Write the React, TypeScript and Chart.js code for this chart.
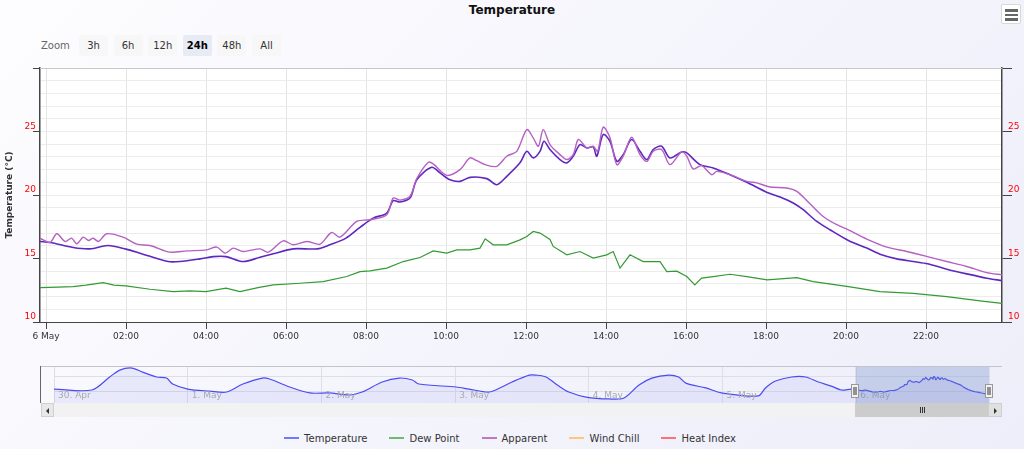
import React, { useEffect, useRef } from 'react';
import { Chart, registerables } from 'chart.js';

Chart.register(...registerables);

const FONT = '"DejaVu Sans", Verdana, sans-serif';

// ---- axis ticks ----
const xTickHours = [0, 2, 4, 6, 8, 10, 12, 14, 16, 18, 20, 22];
const xTickLabels = ['6 May', '02:00', '04:00', '06:00', '08:00', '10:00', '12:00', '14:00', '16:00', '18:00', '20:00', '22:00'];
const yMin = 10;
const yMax = 30;
const viewStart = -0.15;
const viewEnd = 23.9;

// ---- series: Temperature ----
const tempHours = [-0.15, 0.1, 0.68, 1.1, 1.55, 2.0, 2.35, 3.05, 3.35, 3.85, 4.18, 4.5, 4.93, 5.35, 5.68, 6.18, 6.78, 7.1, 7.5, 7.85, 8.18, 8.52, 8.68, 8.85, 9.1, 9.27, 9.64, 9.85, 10.1, 10.35, 10.6, 11.02, 11.27, 11.52, 11.85, 12.02, 12.18, 12.35, 12.45, 12.6, 12.85, 13.02, 13.18, 13.35, 13.52, 13.68, 13.77, 13.93, 14.1, 14.27, 14.43, 14.64, 14.85, 15.02, 15.18, 15.39, 15.6, 15.89, 16.02, 16.35, 16.68, 17.1, 17.52, 18.03, 18.35, 18.68, 18.93, 19.27, 19.6, 20.06, 20.52, 20.85, 21.27, 21.68, 22.04, 22.52, 23.02, 23.52, 23.9];
const tempValues = [16.34, 16.26, 15.87, 15.76, 16.02, 15.74, 15.42, 14.76, 14.76, 14.97, 15.15, 15.15, 14.76, 15.1, 15.37, 15.76, 15.76, 16.08, 16.6, 17.45, 18.18, 18.58, 19.55, 19.45, 19.76, 21.2, 22.18, 21.74, 21.2, 21.07, 21.39, 21.29, 20.81, 21.47, 22.53, 23.44, 22.92, 23.44, 24.23, 23.58, 22.79, 22.53, 23.05, 23.97, 23.71, 23.78, 23.05, 24.76, 24.23, 22.65, 23.18, 24.37, 23.44, 22.79, 23.58, 23.84, 22.92, 23.39, 23.31, 22.39, 22.13, 21.6, 21.0, 20.2, 19.84, 19.37, 18.84, 17.92, 17.26, 16.42, 15.82, 15.34, 14.97, 14.76, 14.58, 14.16, 13.79, 13.45, 13.26];

// ---- series: Apparent ----
const appHours = [-0.15, 0.1, 0.27, 0.48, 0.64, 0.77, 0.93, 1.06, 1.18, 1.31, 1.52, 1.93, 2.27, 2.6, 3.1, 3.52, 4.02, 4.27, 4.48, 4.68, 4.93, 5.35, 5.56, 5.93, 6.18, 6.52, 6.85, 7.14, 7.35, 7.77, 8.1, 8.52, 8.68, 8.85, 9.1, 9.27, 9.56, 9.68, 10.02, 10.35, 10.6, 10.77, 10.98, 11.27, 11.52, 11.77, 12.02, 12.18, 12.31, 12.43, 12.6, 12.85, 13.02, 13.18, 13.31, 13.52, 13.68, 13.79, 13.93, 14.1, 14.27, 14.43, 14.64, 14.85, 15.02, 15.18, 15.39, 15.6, 15.89, 16.02, 16.18, 16.39, 16.64, 16.77, 17.1, 17.52, 17.77, 18.1, 18.52, 18.77, 19.1, 19.43, 19.77, 20.06, 20.52, 21.02, 21.52, 22.04, 22.52, 23.02, 23.52, 23.9];
const appValues = [16.6, 16.26, 16.95, 16.34, 16.6, 16.16, 16.68, 16.42, 16.6, 16.34, 16.95, 16.68, 16.13, 16.02, 15.5, 15.6, 15.68, 15.9, 15.42, 15.82, 15.55, 15.76, 15.5, 16.39, 16.08, 16.34, 16.13, 17.05, 16.68, 17.92, 18.05, 18.45, 19.76, 19.6, 19.9, 21.3, 22.58, 22.45, 21.55, 22.0, 22.92, 22.7, 22.39, 22.26, 23.05, 23.44, 25.15, 24.5, 23.84, 25.15, 23.97, 23.18, 22.79, 23.18, 24.37, 23.71, 23.84, 23.44, 25.34, 24.5, 22.39, 23.05, 24.55, 23.18, 22.65, 23.44, 23.58, 22.39, 23.39, 23.05, 22.05, 22.31, 21.6, 21.86, 21.6, 21.07, 20.95, 20.63, 20.55, 20.28, 19.31, 18.31, 17.66, 17.26, 16.53, 15.9, 15.55, 15.15, 14.76, 14.37, 13.89, 13.71];

// ---- series: Dew Point ----
const dewHours = [-0.15, 0.3, 0.68, 1.0, 1.43, 1.7, 2.0, 2.6, 3.18, 3.6, 4.0, 4.5, 4.85, 5.3, 5.68, 6.35, 6.93, 7.52, 7.85, 8.1, 8.52, 8.93, 9.35, 9.68, 10.02, 10.27, 10.6, 10.85, 10.98, 11.18, 11.52, 11.85, 12.02, 12.18, 12.35, 12.6, 12.68, 13.02, 13.35, 13.68, 14.02, 14.18, 14.35, 14.6, 14.93, 15.35, 15.52, 15.77, 16.02, 16.22, 16.39, 16.68, 17.1, 17.52, 18.03, 18.77, 19.18, 20.06, 20.85, 21.68, 22.52, 23.35, 23.9];
const dewValues = [12.71, 12.75, 12.79, 12.9, 13.1, 12.9, 12.84, 12.58, 12.39, 12.45, 12.39, 12.66, 12.39, 12.7, 12.92, 13.05, 13.18, 13.58, 13.97, 14.03, 14.24, 14.76, 15.08, 15.6, 15.42, 15.68, 15.68, 15.82, 16.55, 16.08, 16.08, 16.47, 16.73, 17.13, 17.0, 16.5, 15.95, 15.29, 15.55, 15.03, 15.29, 15.55, 14.24, 15.29, 14.76, 14.76, 13.97, 14.0, 13.58, 12.92, 13.45, 13.58, 13.76, 13.58, 13.31, 13.5, 13.18, 12.79, 12.39, 12.26, 12.0, 11.66, 11.47];

// ---- navigator (hours since 30 Apr 00:00) ----
const navHours = [0, 6.8, 10.0, 11.8, 14.0, 15.9, 18.4, 20.2, 21.3, 24.0, 27.9, 31.0, 33.9, 37.4, 38.7, 42.3, 45.9, 49.4, 53.0, 55.3, 58.9, 62.0, 64.3, 65.5, 72.2, 74.5, 78.1, 80.4, 82.2, 85.3, 86.5, 88.3, 90.6, 92.4, 95.5, 99.6, 102.3, 105.0, 107.3, 110.3, 112.1, 113.4, 117.0, 119.8, 126.4, 127.7, 129.5, 132.4, 134.9, 137.2, 139.5, 141.3, 143.1];
const navValues = [16.7, 16.1, 24.4, 28.8, 30.1, 27.5, 24.4, 23.7, 19.9, 16.7, 15.4, 14.8, 19.9, 23.7, 23.1, 18.0, 14.2, 14.2, 12.9, 14.8, 21.2, 23.7, 22.5, 19.9, 18.0, 16.7, 14.8, 18.0, 21.2, 25.6, 25.6, 24.4, 18.6, 14.8, 11.6, 10.4, 11.0, 19.3, 23.7, 25.6, 24.4, 20.5, 17.4, 14.2, 12.3, 17.4, 21.8, 24.4, 24.4, 21.2, 18.6, 16.1, 16.7];
const navDayHours = [0, 24, 48, 72, 96, 120, 144];
const navDayLabels = ['30. Apr', '1. May', '2. May', '3. May', '4. May', '5. May', '6. May'];
const navGridValues = [15, 25];
const navMin = 0;
const navMax = 168;
const navOffset = 144;

// ---- UI text ----
const zoomButtons = ['3h', '6h', '12h', '24h', '48h', 'All'];
const selectedZoom = '24h';
const legendLabels = ['Temperature', 'Dew Point', 'Apparent', 'Wind Chill', 'Heat Index'];
const legendColors = ['#7078ff', '#72b872', '#c078c4', '#ffc878', '#ff7078'];

const pts = (hs: number[], vs: number[]) => hs.map((h, i) => ({ x: h, y: vs[i] }));

const NAV_LEFT = 54;
const NAV_RIGHT = 990;

export default function App() {
  const mainRef = useRef<HTMLCanvasElement | null>(null);
  const navRef = useRef<HTMLCanvasElement | null>(null);

  useEffect(() => {
    const tickColor = (ctx: any) =>
      ctx.tick && Math.round(ctx.tick.value) % 5 === 0 ? '#444' : 'rgba(0,0,0,0)';
    const yLabel = (v: any) => (Number(v) % 5 === 0 && Number(v) < yMax ? String(v) : '');

    const bgPlugin = {
      id: 'bg',
      beforeDraw(chart: any) {
        const { ctx, chartArea: a } = chart;
        ctx.save();
        ctx.fillStyle = '#ffffff';
        ctx.fillRect(a.left, a.top, a.right - a.left, a.bottom - a.top);
        ctx.restore();
      },
      afterDraw(chart: any) {
        const { ctx, chartArea: a } = chart;
        ctx.save();
        ctx.strokeStyle = '#c8c8c8';
        ctx.lineWidth = 1;
        ctx.beginPath();
        ctx.moveTo(a.left, a.top + 0.5);
        ctx.lineTo(a.right, a.top + 0.5);
        ctx.stroke();
        ctx.restore();
      },
    };

    const main = new Chart(mainRef.current as HTMLCanvasElement, {
      type: 'line',
      data: {
        datasets: [
          { label: 'Dew Point', data: pts(dewHours, dewValues), borderColor: 'rgb(52,154,52)', borderWidth: 1.2, pointRadius: 0, tension: 0 },
          { label: 'Apparent', data: pts(appHours, appValues), borderColor: 'rgb(182,96,194)', borderWidth: 1.4, pointRadius: 0, tension: 0.3 },
          { label: 'Temperature', data: pts(tempHours, tempValues), borderColor: 'rgb(94,40,190)', borderWidth: 1.6, pointRadius: 0, tension: 0.3 },
        ],
      },
      options: {
        responsive: false,
        animation: false,
        events: [],
        layout: { padding: { top: 8, left: 0, right: 0, bottom: 0 } },
        plugins: { legend: { display: false }, tooltip: { enabled: false }, title: { display: false } },
        scales: {
          x: {
            type: 'linear',
            min: viewStart,
            max: viewEnd,
            afterBuildTicks: (s: any) => { s.ticks = xTickHours.map((v) => ({ value: v })); },
            afterFit: (s: any) => { s.height = 28; },
            ticks: {
              autoSkip: false,
              maxRotation: 0,
              color: '#333',
              padding: 2,
              font: { family: FONT, size: 9 },
              callback: (_v: any, i: number) => xTickLabels[i] ?? '',
            },
            grid: { color: '#e4e4e4', tickLength: 7, tickColor: '#444' },
            border: { color: '#444', width: 1 },
          },
          y: {
            type: 'linear',
            position: 'left',
            min: yMin,
            max: yMax,
            afterFit: (s: any) => { s.width = 40; },
            ticks: {
              stepSize: 1,
              autoSkip: false,
              color: '#ff0000',
              padding: -3,
              labelOffset: -5,
              font: { family: FONT, size: 9 },
              callback: yLabel,
            },
            grid: { color: '#ececec', tickLength: 7, tickColor: tickColor },
            border: { color: '#444', width: 1.5 },
            title: {
              display: true,
              text: 'Temperature (°C)',
              color: '#333',
              font: { family: FONT, size: 9, weight: 'bold' },
              padding: { top: 4, bottom: 0 },
            },
          },
          y2: {
            type: 'linear',
            position: 'right',
            min: yMin,
            max: yMax,
            afterFit: (s: any) => { s.width = 22; },
            ticks: {
              stepSize: 1,
              autoSkip: false,
              color: '#ff0000',
              padding: -4,
              labelOffset: -5,
              font: { family: FONT, size: 9 },
              callback: yLabel,
            },
            grid: { drawOnChartArea: false, tickLength: 10, tickColor: tickColor },
            border: { color: '#444', width: 1.5 },
          },
        },
      } as any,
      plugins: [bgPlugin],
    });

    const navPlugin = {
      id: 'navDecor',
      afterDatasetsDraw(chart: any) {
        const { ctx, chartArea: a, scales } = chart;
        const xs = scales.x;
        ctx.save();
        // day labels
        ctx.fillStyle = '#a8a8b0';
        ctx.font = `9px ${FONT}`;
        ctx.textBaseline = 'middle';
        ctx.textAlign = 'left';
        navDayHours.forEach((h, i) => {
          ctx.fillText(navDayLabels[i], xs.getPixelForValue(h) + 4, 29.5);
        });
        // selection mask
        const x1 = xs.getPixelForValue(viewStart + navOffset);
        const x2 = Math.min(xs.getPixelForValue(viewEnd + navOffset), a.right);
        ctx.fillStyle = 'rgba(102,133,194,0.3)';
        ctx.fillRect(x1, 0, x2 - x1, chart.height);
        // outline
        ctx.strokeStyle = '#c4c4cc';
        ctx.lineWidth = 1;
        ctx.beginPath();
        ctx.moveTo(0, 0.5);
        ctx.lineTo(chart.width, 0.5);
        ctx.stroke();
        ctx.strokeStyle = '#666';
        ctx.beginPath();
        ctx.moveTo(0.5, 0);
        ctx.lineTo(0.5, chart.height);
        ctx.stroke();
        // handles
        [x1, x2].forEach((hx) => {
          const left = Math.round(hx) - 3.5;
          ctx.fillStyle = '#f2f2f2';
          ctx.strokeStyle = '#999';
          ctx.fillRect(left, 18.5, 7, 13);
          ctx.strokeRect(left, 18.5, 7, 13);
          ctx.strokeStyle = '#333';
          ctx.beginPath();
          ctx.moveTo(left + 2.5, 21);
          ctx.lineTo(left + 2.5, 29);
          ctx.moveTo(left + 4.5, 21);
          ctx.lineTo(left + 4.5, 29);
          ctx.stroke();
        });
        ctx.restore();
      },
    };

    const navData = pts(navHours, navValues).concat(pts(tempHours.map((h) => h + navOffset), tempValues));

    const nav = new Chart(navRef.current as HTMLCanvasElement, {
      type: 'line',
      data: {
        datasets: [
          {
            label: 'Navigator',
            data: navData,
            borderColor: '#4b4bf2',
            borderWidth: 1.2,
            pointRadius: 0,
            tension: 0.3,
            fill: 'start',
            backgroundColor: 'rgba(90,90,235,0.09)',
          },
        ],
      },
      options: {
        responsive: false,
        animation: false,
        events: [],
        layout: { padding: { left: NAV_LEFT - 40, right: 1002 - NAV_RIGHT, top: 0, bottom: 0 } },
        plugins: { legend: { display: false }, tooltip: { enabled: false } },
        scales: {
          x: {
            type: 'linear',
            min: navMin,
            max: navMax,
            afterBuildTicks: (s: any) => { s.ticks = navDayHours.map((v) => ({ value: v })); },
            afterFit: (s: any) => { s.height = 0; },
            ticks: { display: false },
            grid: { color: '#dedee6', drawTicks: false },
            border: { display: false },
          },
          y: {
            type: 'linear',
            min: 7.8,
            max: 31.4,
            afterBuildTicks: (s: any) => { s.ticks = navGridValues.map((v) => ({ value: v })); },
            afterFit: (s: any) => { s.width = 0; },
            ticks: { display: false },
            grid: { color: '#dedee6', drawTicks: false },
            border: { display: false },
          },
        },
      } as any,
      plugins: [navPlugin],
    });

    return () => {
      main.destroy();
      nav.destroy();
    };
  }, []);

  const navW = NAV_RIGHT - NAV_LEFT;
  const thumbLeft = NAV_LEFT + ((viewStart + navOffset - navMin) / (navMax - navMin)) * navW;
  const thumbRight = NAV_LEFT + ((viewEnd + navOffset - navMin) / (navMax - navMin)) * navW;

  return (
    <div
      style={{
        position: 'fixed',
        left: 0,
        top: 0,
        width: 1024,
        height: 449,
        overflow: 'hidden',
        background: 'linear-gradient(135deg, #fdfdff 0%, #f4f4fc 55%, #eeeefa 100%)',
        fontFamily: FONT,
      }}
    >
      <div style={{ position: 'absolute', left: 0, top: 2, width: 1024, textAlign: 'center', fontSize: 12, fontWeight: 'bold', color: '#111', lineHeight: '16px' }}>
        Temperature
      </div>
      {/* menu button */}
      <div style={{ position: 'absolute', left: 1001, top: 4, width: 20, height: 20, background: '#fff', border: '1px solid #d8d8d8', borderRadius: 2, boxSizing: 'border-box' }}>
        {[4, 8.5, 13].map((t, i) => (
          <div key={i} style={{ position: 'absolute', left: 3, top: t, width: 13, height: 2.5, background: '#666' }} />
        ))}
      </div>
      {/* zoom buttons */}
      <div style={{ position: 'absolute', left: 41, top: 35, height: 21, lineHeight: '21px', fontSize: 10, color: '#666' }}>Zoom</div>
      {zoomButtons.map((b, i) => (
        <div
          key={b}
          style={{
            position: 'absolute',
            left: 79 + i * 34.6,
            top: 35,
            width: 29,
            height: 21,
            lineHeight: '21px',
            textAlign: 'center',
            fontSize: 10,
            borderRadius: 2,
            background: b === selectedZoom ? '#e6ebf5' : '#f7f7f7',
            color: b === selectedZoom ? '#000' : '#333',
            fontWeight: b === selectedZoom ? 'bold' : 'normal',
          }}
        >
          {b}
        </div>
      ))}
      <canvas ref={mainRef} width={1024} height={290} style={{ position: 'absolute', left: 0, top: 60, width: 1024, height: 290 }} />
      <canvas ref={navRef} width={962} height={37} style={{ position: 'absolute', left: 40, top: 366, width: 962, height: 37 }} />
      {/* scrollbar */}
      <div style={{ position: 'absolute', left: 41, top: 403, width: 961, height: 14, background: '#f2f2f2' }} />
      <div style={{ position: 'absolute', left: 41, top: 403, width: 13, height: 14, background: '#e8e8e8', border: '1px solid #d0d0d0', boxSizing: 'border-box' }}>
        <div style={{ position: 'absolute', left: 4, top: 3.5, width: 0, height: 0, borderTop: '3px solid transparent', borderBottom: '3px solid transparent', borderRight: '3px solid #333' }} />
      </div>
      <div style={{ position: 'absolute', left: thumbLeft, top: 403, width: thumbRight - thumbLeft, height: 14, background: '#cccccc' }}>
        {[-2, 0, 2].map((o, i) => (
          <div key={i} style={{ position: 'absolute', left: (thumbRight - thumbLeft) / 2 + o - 0.5, top: 4, width: 1, height: 6, background: '#333' }} />
        ))}
      </div>
      <div style={{ position: 'absolute', left: 988, top: 403, width: 14, height: 14, background: '#e0e0e0', border: '1px solid #cfcfcf', boxSizing: 'border-box' }}>
        <div style={{ position: 'absolute', left: 5, top: 3.5, width: 0, height: 0, borderTop: '3px solid transparent', borderBottom: '3px solid transparent', borderLeft: '3px solid #333' }} />
      </div>
      {/* legend */}
      <div style={{ position: 'absolute', left: 0, top: 430, width: 1020, height: 16, display: 'flex', justifyContent: 'center', alignItems: 'center', gap: 22 }}>
        {legendLabels.map((l, i) => (
          <div key={l} style={{ display: 'flex', alignItems: 'center', fontSize: 10, color: '#333' }}>
            <div style={{ width: 15, height: 2, background: legendColors[i], marginRight: 5 }} />
            <span>{l}</span>
          </div>
        ))}
      </div>
    </div>
  );
}
